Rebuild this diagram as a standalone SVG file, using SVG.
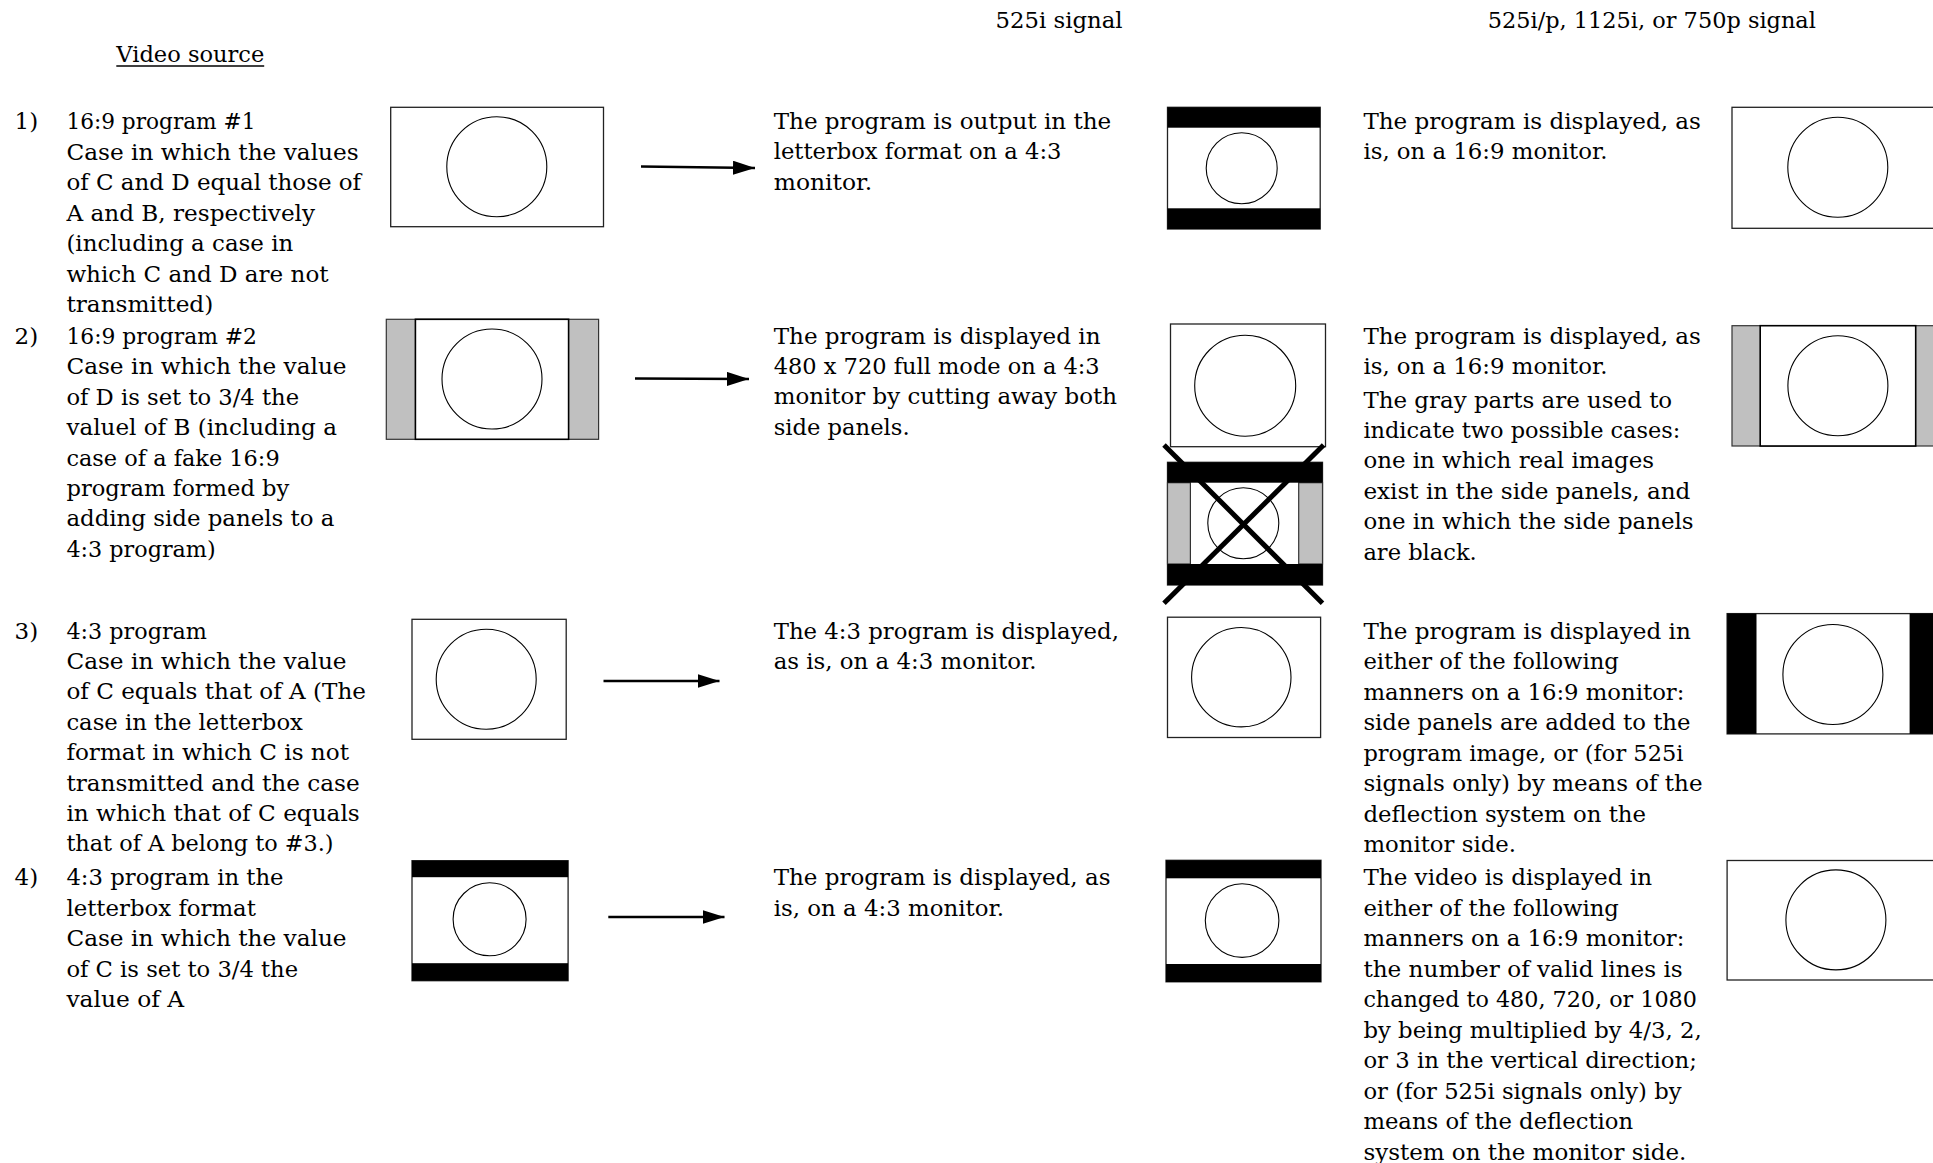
<svg xmlns="http://www.w3.org/2000/svg" width="1933" height="1163" viewBox="0 0 1933 1163">
<style>
text{font-family:"DejaVu Serif","Liberation Serif",serif;font-size:23px;fill:#000}
.box{fill:#fff;stroke:#222;stroke-width:1.3}
.gray{fill:#c0c0c0;stroke:#333;stroke-width:1.2}
.blk{fill:#000;stroke:none}
.circ{fill:none;stroke:#000;stroke-width:1.1}
.arr{stroke:#000;stroke-width:2.5;fill:none}
.cross{stroke:#000;stroke-width:5;stroke-linecap:butt}
</style>
<defs>
<marker id="ah" markerUnits="userSpaceOnUse" markerWidth="24" markerHeight="16" refX="22" refY="7" orient="auto">
<path d="M0,0 L22,7 L0,14 z" fill="#000"/>
</marker>
</defs>
<rect width="1933" height="1163" fill="#fff"/>

<g id="headers">
<text x="116.3" y="61.7" textLength="148" lengthAdjust="spacingAndGlyphs">Video source</text>
<line x1="116.3" y1="66" x2="264.2" y2="66" stroke="#000" stroke-width="1.6"/>
<text x="995.6" y="28.3" textLength="127" lengthAdjust="spacingAndGlyphs">525i signal</text>
<text x="1487.7" y="28.3" textLength="328.2" lengthAdjust="spacingAndGlyphs">525i/p, 1125i, or 750p signal</text>
</g>

<g id="src1-text">
<text x="14.5" y="129">1)</text>
<text x="66.4" y="129" textLength="189" lengthAdjust="spacingAndGlyphs">16:9 program #1</text>
<text x="66.4" y="159.5" textLength="292.3" lengthAdjust="spacingAndGlyphs">Case in which the values</text>
<text x="66.4" y="190" textLength="294.7" lengthAdjust="spacingAndGlyphs">of C and D equal those of</text>
<text x="66.4" y="220.5" textLength="248.7" lengthAdjust="spacingAndGlyphs">A and B, respectively</text>
<text x="66.4" y="251" textLength="226.9" lengthAdjust="spacingAndGlyphs">(including a case in</text>
<text x="66.4" y="281.5" textLength="262.2" lengthAdjust="spacingAndGlyphs">which C and D are not</text>
<text x="66.4" y="312" textLength="146.9" lengthAdjust="spacingAndGlyphs">transmitted)</text>
</g>
<g id="src2-text">
<text x="14.5" y="344">2)</text>
<text x="66.4" y="344" textLength="190.5" lengthAdjust="spacingAndGlyphs">16:9 program #2</text>
<text x="66.4" y="374.4" textLength="280.2" lengthAdjust="spacingAndGlyphs">Case in which the value</text>
<text x="66.4" y="404.8" textLength="232.7" lengthAdjust="spacingAndGlyphs">of D is set to 3/4 the</text>
<text x="66.4" y="435.2" textLength="270.5" lengthAdjust="spacingAndGlyphs">valuel of B (including a</text>
<text x="66.4" y="465.6" textLength="213.3" lengthAdjust="spacingAndGlyphs">case of a fake 16:9</text>
<text x="66.4" y="496" textLength="223" lengthAdjust="spacingAndGlyphs">program formed by</text>
<text x="66.4" y="526.4" textLength="268" lengthAdjust="spacingAndGlyphs">adding side panels to a</text>
<text x="66.4" y="556.8" textLength="149.3" lengthAdjust="spacingAndGlyphs">4:3 program)</text>
</g>
<g id="src3-text">
<text x="14.5" y="638.5">3)</text>
<text x="66.4" y="638.5" textLength="140.6" lengthAdjust="spacingAndGlyphs">4:3 program</text>
<text x="66.4" y="668.9" textLength="280.2" lengthAdjust="spacingAndGlyphs">Case in which the value</text>
<text x="66.4" y="699.3" textLength="299.6" lengthAdjust="spacingAndGlyphs">of C equals that of A (The</text>
<text x="66.4" y="729.7" textLength="236.5" lengthAdjust="spacingAndGlyphs">case in the letterbox</text>
<text x="66.4" y="760.1" textLength="282.6" lengthAdjust="spacingAndGlyphs">format in which C is not</text>
<text x="66.4" y="790.5" textLength="293.3" lengthAdjust="spacingAndGlyphs">transmitted and the case</text>
<text x="66.4" y="820.9" textLength="293.3" lengthAdjust="spacingAndGlyphs">in which that of C equals</text>
<text x="66.4" y="851.3" textLength="267.1" lengthAdjust="spacingAndGlyphs">that of A belong to #3.)</text>
</g>
<g id="src4-text">
<text x="14.5" y="885.3">4)</text>
<text x="66.4" y="885.3" textLength="217.2" lengthAdjust="spacingAndGlyphs">4:3 program in the</text>
<text x="66.4" y="915.7" textLength="189.5" lengthAdjust="spacingAndGlyphs">letterbox format</text>
<text x="66.4" y="946.1" textLength="280.2" lengthAdjust="spacingAndGlyphs">Case in which the value</text>
<text x="66.4" y="976.5" textLength="231.7" lengthAdjust="spacingAndGlyphs">of C is set to 3/4 the</text>
<text x="66.4" y="1006.9" textLength="117.8" lengthAdjust="spacingAndGlyphs">value of A</text>
</g>

<g id="src1-img">
<rect class="box" x="390.7" y="107.3" width="212.8" height="119.4"/>
<circle class="circ" cx="496.8" cy="166.7" r="50"/>
</g>
<g id="src2-img">
<rect class="gray" x="386.3" y="319.3" width="212.3" height="120"/>
<rect class="box" x="415.4" y="319.3" width="153.2" height="120" style="stroke:#000;stroke-width:1.6"/>
<circle class="circ" cx="492" cy="379" r="50"/>
</g>
<g id="src3-img">
<rect class="box" x="412" y="619.3" width="154.2" height="120"/>
<circle class="circ" cx="486.2" cy="679.3" r="50"/>
</g>
<g id="src4-img">
<rect class="box" x="412" y="860.7" width="156.1" height="120"/>
<rect class="blk" x="412" y="860.7" width="156.1" height="16.5"/>
<rect class="blk" x="412" y="963.2" width="156.1" height="17.5"/>
<circle class="circ" cx="489.6" cy="919.3" r="36.5"/>
</g>

<g id="connectors">
<line class="arr" x1="641" y1="166.5" x2="755" y2="168" marker-end="url(#ah)"/>
<line class="arr" x1="635" y1="378.5" x2="749" y2="379" marker-end="url(#ah)"/>
<line class="arr" x1="603.5" y1="681" x2="719.5" y2="681" marker-end="url(#ah)"/>
<line class="arr" x1="608.3" y1="917" x2="724.5" y2="917" marker-end="url(#ah)"/>
</g>

<g id="r525-1-text">
<text x="773.7" y="128.7" textLength="337.5" lengthAdjust="spacingAndGlyphs">The program is output in the</text>
<text x="773.7" y="159.1" textLength="287.8" lengthAdjust="spacingAndGlyphs">letterbox format on a 4:3</text>
<text x="773.7" y="189.5" textLength="98.4" lengthAdjust="spacingAndGlyphs">monitor.</text>
</g>
<g id="r525-2-text">
<text x="773.7" y="344" textLength="326.8" lengthAdjust="spacingAndGlyphs">The program is displayed in</text>
<text x="773.7" y="374.2" textLength="326" lengthAdjust="spacingAndGlyphs">480 x 720 full mode on a 4:3</text>
<text x="773.7" y="404.4" textLength="343.3" lengthAdjust="spacingAndGlyphs">monitor by cutting away both</text>
<text x="773.7" y="434.6" textLength="135.9" lengthAdjust="spacingAndGlyphs">side panels.</text>
</g>
<g id="r525-3-text">
<text x="773.7" y="638.7" textLength="345.2" lengthAdjust="spacingAndGlyphs">The 4:3 program is displayed,</text>
<text x="773.7" y="669" textLength="262.9" lengthAdjust="spacingAndGlyphs">as is, on a 4:3 monitor.</text>
</g>
<g id="r525-4-text">
<text x="773.7" y="885.3" textLength="336.8" lengthAdjust="spacingAndGlyphs">The program is displayed, as</text>
<text x="773.7" y="915.8" textLength="230.4" lengthAdjust="spacingAndGlyphs">is, on a 4:3 monitor.</text>
</g>

<g id="r525-1-img">
<rect class="box" x="1167.5" y="107.3" width="152.7" height="121.7"/>
<rect class="blk" x="1167.5" y="107.3" width="152.7" height="20.4"/>
<rect class="blk" x="1167.5" y="208.3" width="152.7" height="20.7"/>
<circle class="circ" cx="1241.7" cy="168.3" r="35.5"/>
</g>
<g id="r525-2-img">
<rect class="box" x="1170.5" y="324" width="155" height="122.7"/>
<circle class="circ" cx="1245.2" cy="385.7" r="50.5"/>
</g>
<g id="r525-2-crossed">
<rect class="box" x="1167.5" y="462.3" width="155" height="122.7"/>
<rect class="gray" x="1167.5" y="482.7" width="22.9" height="81.3"/>
<rect class="gray" x="1298.7" y="482.7" width="23.8" height="81.3"/>
<rect class="blk" x="1167.5" y="462.3" width="155" height="20.4"/>
<rect class="blk" x="1167.5" y="564" width="155" height="21"/>
<circle class="circ" cx="1243.3" cy="523.3" r="35.5"/>
<line class="cross" x1="1164" y1="445" x2="1322.5" y2="603.3"/>
<line class="cross" x1="1323.6" y1="445" x2="1164" y2="603.3"/>
</g>
<g id="r525-3-img">
<rect class="box" x="1167.5" y="617.2" width="153.1" height="120.3"/>
<circle class="circ" cx="1241.3" cy="677.2" r="49.7"/>
</g>
<g id="r525-4-img">
<rect class="box" x="1166" y="860.3" width="155" height="121.5"/>
<rect class="blk" x="1166" y="860.3" width="155" height="18"/>
<rect class="blk" x="1166" y="964" width="155" height="18"/>
<circle class="circ" cx="1242.1" cy="920.6" r="36.8"/>
</g>

<g id="hd-1-text">
<text x="1363.4" y="128.7" textLength="337.5" lengthAdjust="spacingAndGlyphs">The program is displayed, as</text>
<text x="1363.4" y="159.1" textLength="244.2" lengthAdjust="spacingAndGlyphs">is, on a 16:9 monitor.</text>
</g>
<g id="hd-2-text">
<text x="1363.4" y="344" textLength="337.5" lengthAdjust="spacingAndGlyphs">The program is displayed, as</text>
<text x="1363.4" y="374.4" textLength="244.2" lengthAdjust="spacingAndGlyphs">is, on a 16:9 monitor.</text>
<text x="1363.4" y="407.5" textLength="308.8" lengthAdjust="spacingAndGlyphs">The gray parts are used to</text>
<text x="1363.4" y="437.9" textLength="316.9" lengthAdjust="spacingAndGlyphs">indicate two possible cases:</text>
<text x="1363.4" y="468.3" textLength="290.7" lengthAdjust="spacingAndGlyphs">one in which real images</text>
<text x="1363.4" y="498.7" textLength="327" lengthAdjust="spacingAndGlyphs">exist in the side panels, and</text>
<text x="1363.4" y="529.1" textLength="330.2" lengthAdjust="spacingAndGlyphs">one in which the side panels</text>
<text x="1363.4" y="559.5" textLength="113.4" lengthAdjust="spacingAndGlyphs">are black.</text>
</g>
<g id="hd-3-text">
<text x="1363.4" y="638.7" textLength="327.4" lengthAdjust="spacingAndGlyphs">The program is displayed in</text>
<text x="1363.4" y="669.2" textLength="255.5" lengthAdjust="spacingAndGlyphs">either of the following</text>
<text x="1363.4" y="699.7" textLength="321" lengthAdjust="spacingAndGlyphs">manners on a 16:9 monitor:</text>
<text x="1363.4" y="730.2" textLength="327" lengthAdjust="spacingAndGlyphs">side panels are added to the</text>
<text x="1363.4" y="760.7" textLength="320.1" lengthAdjust="spacingAndGlyphs">program image, or (for 525i</text>
<text x="1363.4" y="791.2" textLength="339.1" lengthAdjust="spacingAndGlyphs">signals only) by means of the</text>
<text x="1363.4" y="821.7" textLength="282.6" lengthAdjust="spacingAndGlyphs">deflection system on the</text>
<text x="1363.4" y="852.2" textLength="152.6" lengthAdjust="spacingAndGlyphs">monitor side.</text>
</g>
<g id="hd-4-text">
<text x="1363.4" y="885.3" textLength="288.7" lengthAdjust="spacingAndGlyphs">The video is displayed in</text>
<text x="1363.4" y="915.8" textLength="255.5" lengthAdjust="spacingAndGlyphs">either of the following</text>
<text x="1363.4" y="946.3" textLength="321" lengthAdjust="spacingAndGlyphs">manners on a 16:9 monitor:</text>
<text x="1363.4" y="976.8" textLength="319.3" lengthAdjust="spacingAndGlyphs">the number of valid lines is</text>
<text x="1363.4" y="1007.3" textLength="333.5" lengthAdjust="spacingAndGlyphs">changed to 480, 720, or 1080</text>
<text x="1363.4" y="1037.8" textLength="338.3" lengthAdjust="spacingAndGlyphs">by being multiplied by 4/3, 2,</text>
<text x="1363.4" y="1068.3" textLength="333.5" lengthAdjust="spacingAndGlyphs">or 3 in the vertical direction;</text>
<text x="1363.4" y="1098.8" textLength="318.1" lengthAdjust="spacingAndGlyphs">or (for 525i signals only) by</text>
<text x="1363.4" y="1129.3" textLength="269.7" lengthAdjust="spacingAndGlyphs">means of the deflection</text>
<text x="1363.4" y="1159.8" textLength="323" lengthAdjust="spacingAndGlyphs">system on the monitor side.</text>
</g>

<g id="hd-1-img">
<rect class="box" x="1732" y="107.3" width="220" height="121"/>
<circle class="circ" cx="1837.8" cy="167.3" r="50"/>
</g>
<g id="hd-2-img">
<rect class="gray" x="1732" y="325.7" width="220" height="120.3"/>
<rect class="box" x="1760.2" y="325.7" width="155.5" height="120.3" style="stroke:#000;stroke-width:1.6"/>
<circle class="circ" cx="1837.9" cy="385.8" r="50"/>
</g>
<g id="hd-3-img">
<rect class="box" x="1727.1" y="613.6" width="220" height="120.3"/>
<rect class="blk" x="1727.1" y="613.6" width="29.4" height="120.3"/>
<rect class="blk" x="1909.6" y="613.6" width="40" height="120.3"/>
<circle class="circ" cx="1832.9" cy="674.5" r="50"/>
</g>
<g id="hd-4-img">
<rect class="box" x="1727.1" y="860.5" width="220" height="119.5"/>
<circle class="circ" cx="1835.9" cy="919.9" r="50"/>
</g>
</svg>
